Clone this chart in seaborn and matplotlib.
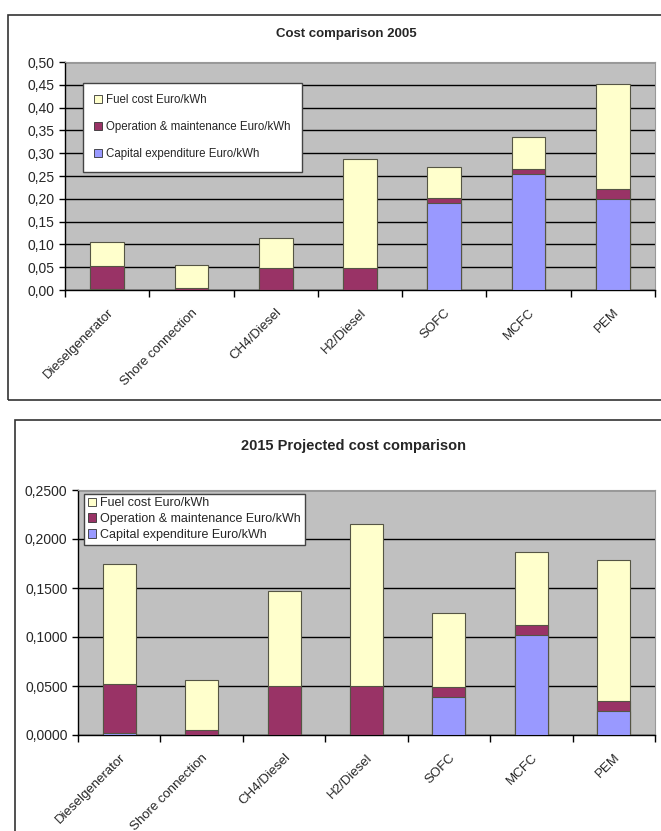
import matplotlib
matplotlib.use("Agg")
import matplotlib.pyplot as plt
import matplotlib.patches as mpatches
from matplotlib.ticker import FuncFormatter, FixedLocator
import numpy as np
import pandas as pd
import seaborn as sns

categories = ["Dieselgenerator", "Shore connection", "CH4/Diesel", "H2/Diesel", "SOFC", "MCFC", "PEM"]
series_names = ["Fuel cost Euro/kWh", "Operation & maintenance Euro/kWh", "Capital expenditure Euro/kWh"]

capex_2005 = [0.002, 0.0, 0.0, 0.0, 0.190, 0.255, 0.200]
om_2005 = [0.050, 0.005, 0.048, 0.048, 0.012, 0.010, 0.022]
fuel_2005 = [0.053, 0.050, 0.067, 0.240, 0.068, 0.070, 0.230]

capex_2015 = [0.002, 0.0, 0.0, 0.0, 0.039, 0.102, 0.025]
om_2015 = [0.050, 0.005, 0.050, 0.050, 0.010, 0.010, 0.010]
fuel_2015 = [0.122, 0.051, 0.097, 0.165, 0.075, 0.075, 0.144]

colors = {"fuel": "#FFFFCC", "om": "#993366", "capex": "#9999FF"}

sns.set_style("white")
plt.rcParams["font.family"] = ["Liberation Sans", "DejaVu Sans"]

fig = plt.figure(figsize=(6.61, 8.31), dpi=100)

# panel borders
fig.patches.append(mpatches.Rectangle((8 / 661, 1 - 400 / 831), 660 / 661, 385 / 831,
                                      transform=fig.transFigure, fill=False, ec="#333333", lw=1.2))
fig.patches.append(mpatches.Rectangle((15 / 661, -0.01), 660 / 661, (831 - 420) / 831 + 0.01,
                                      transform=fig.transFigure, fill=False, ec="#333333", lw=1.2))


def draw_panel(ax, capex, om, fuel, ymax, step, fmt, title, title_y, title_size, leg_kw):
    df = pd.DataFrame({"cat": categories, "capex": capex, "om": om, "fuel": fuel})
    df["lvl_om"] = df["capex"] + df["om"]
    df["lvl_fuel"] = df["lvl_om"] + df["fuel"]
    ax.set_facecolor("#C0C0C0")
    for col, c in [("lvl_fuel", colors["fuel"]), ("lvl_om", colors["om"]), ("capex", colors["capex"])]:
        sns.barplot(data=df, x="cat", y=col, color=c, width=0.4, ax=ax,
                    edgecolor="#555544", linewidth=0.8, saturation=1, zorder=3)
    ax.set_ylim(0, ymax)
    ax.set_xlim(-0.5, len(categories) - 0.5)
    ax.set_yticks(np.arange(0, ymax + step / 2, step))
    ax.yaxis.set_major_formatter(FuncFormatter(lambda v, p: fmt.format(v).replace(".", ",")))
    ax.yaxis.grid(True, color="black", lw=1.0, zorder=0)
    ax.set_axisbelow(True)
    ax.set_xlabel("")
    ax.set_ylabel("")
    ax.set_xticks(range(len(categories)))
    ax.set_xticklabels(categories, rotation=45, ha="right", rotation_mode="anchor", fontsize=9.5)
    ax.xaxis.set_minor_locator(FixedLocator(np.arange(-0.5, len(categories), 1.0)))
    ax.tick_params(axis="x", which="major", length=0, pad=12)
    ax.tick_params(axis="x", which="minor", length=5, width=1, color="black", direction="out", bottom=True)
    ax.tick_params(axis="y", length=4, width=1, color="black", direction="out", left=True, labelsize=10)
    for s in ["top", "right"]:
        ax.spines[s].set_color("#999999")
    for s in ["left", "bottom"]:
        ax.spines[s].set_color("black")
        ax.spines[s].set_linewidth(1.0)
    handles = [mpatches.Patch(fc=colors[k], ec="#333333", lw=0.6, label=n)
               for k, n in zip(["fuel", "om", "capex"], series_names)]
    ax.legend(handles=handles, loc="upper left", frameon=True, fancybox=False,
              edgecolor="#444444", framealpha=1, handlelength=0.7, handleheight=0.7,
              handletextpad=0.3, borderaxespad=0, **leg_kw)
    fig.text(ax.get_position().x0 + ax.get_position().width / 2 - 0.02, title_y, title,
             ha="center", va="center", fontsize=title_size, fontweight="bold")


ax1 = fig.add_axes([65 / 661, 1 - 290 / 831, (655 - 65) / 661, 228 / 831])
draw_panel(ax1, capex_2005, om_2005, fuel_2005, 0.5, 0.05, "{:.2f}",
           "Cost comparison 2005", 1 - 34 / 831, 9.5,
           dict(bbox_to_anchor=(0.03, 0.91), fontsize=8.3, labelspacing=1.3, borderpad=1.0))

ax2 = fig.add_axes([78 / 661, 1 - 735 / 831, (655 - 78) / 661, 245 / 831])
draw_panel(ax2, capex_2015, om_2015, fuel_2015, 0.25, 0.05, "{:.4f}",
           "2015 Projected cost comparison", 1 - 446 / 831, 10.5,
           dict(bbox_to_anchor=(0.01, 0.985), fontsize=9, labelspacing=0.3, borderpad=0.3))

fig.savefig("out.png", dpi=100)
